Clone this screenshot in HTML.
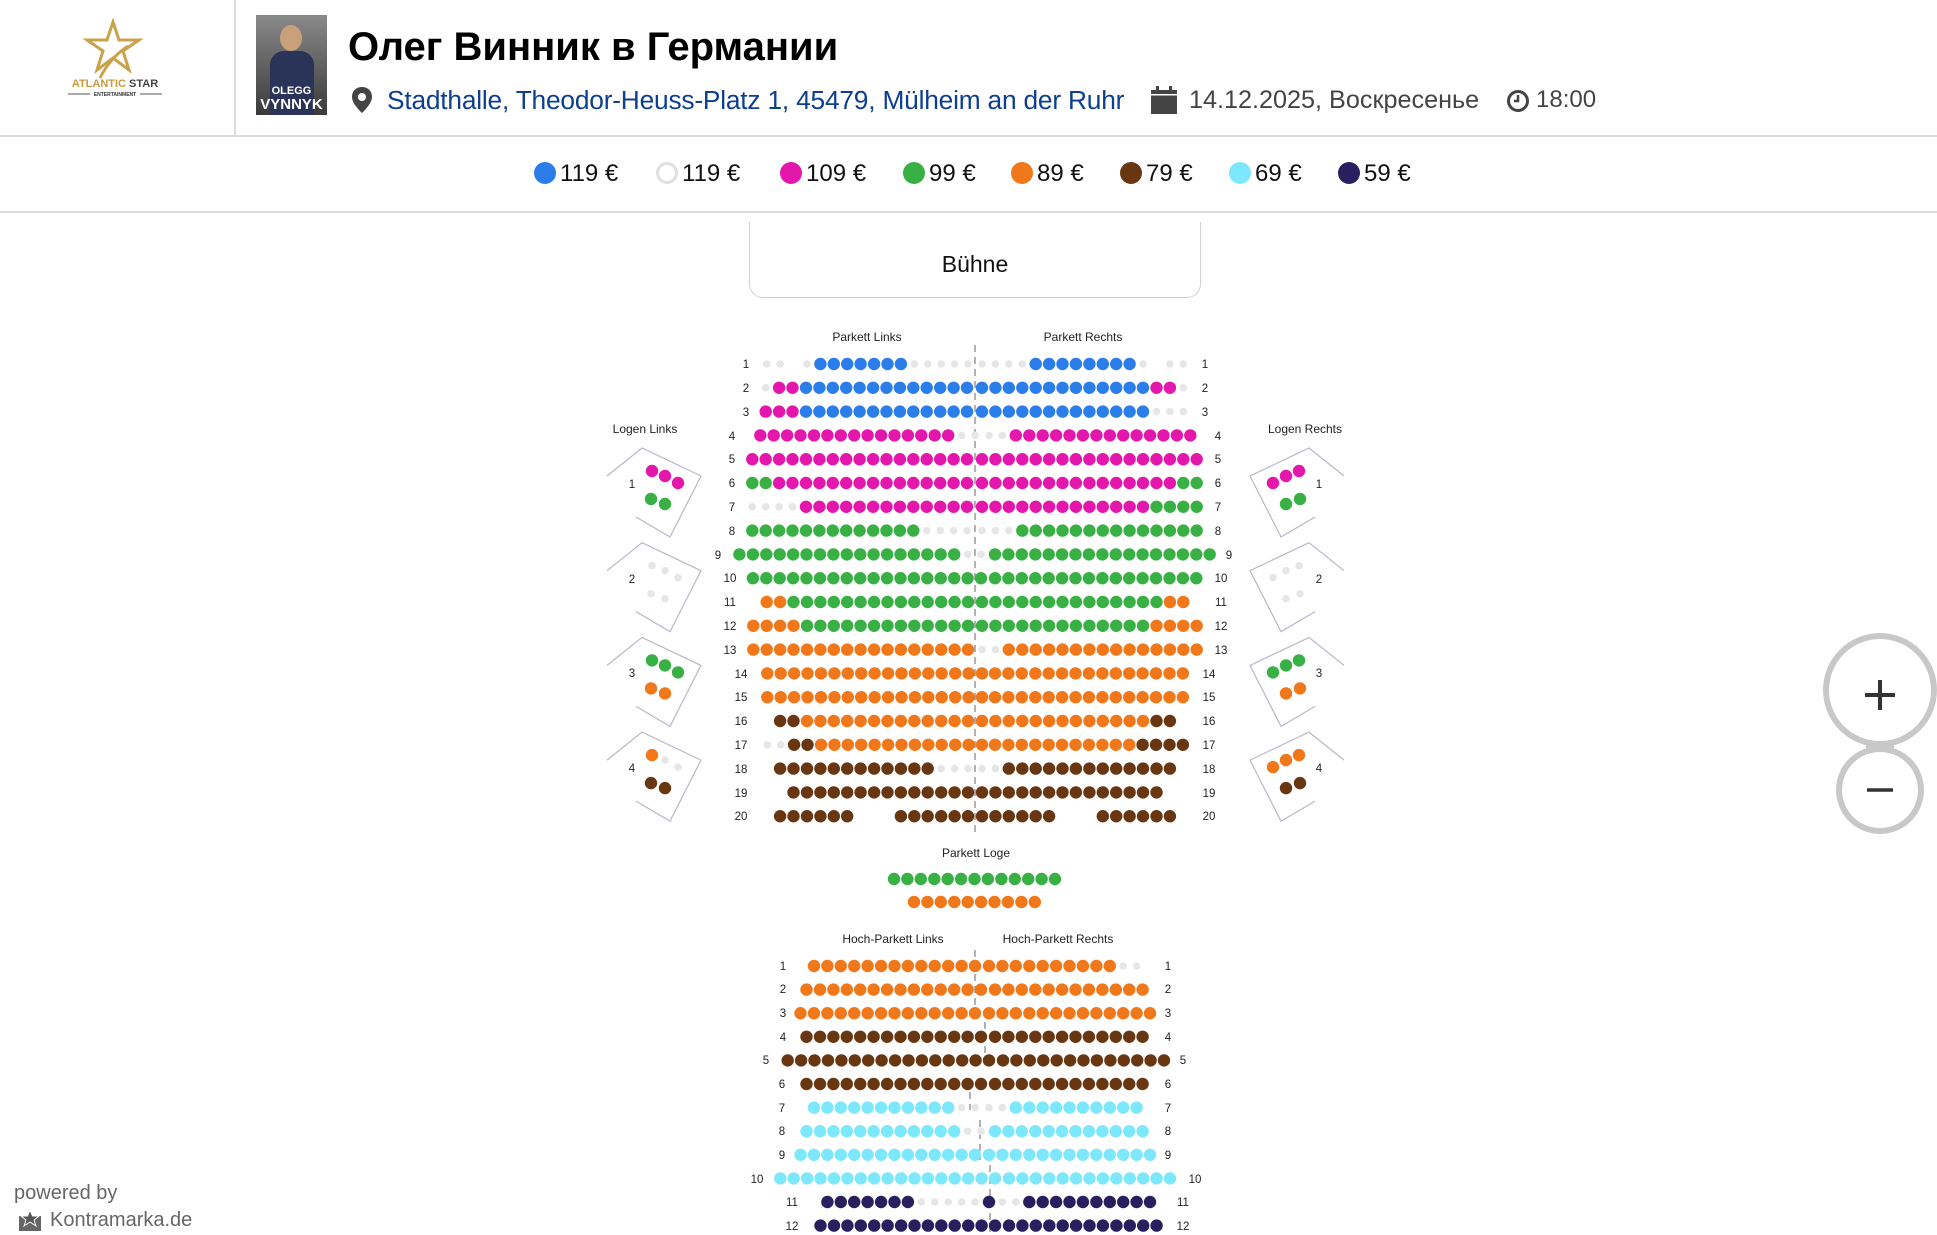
<!DOCTYPE html>
<html><head><meta charset="utf-8">
<style>
html,body{margin:0;padding:0;background:#fff;}
body{width:1937px;height:1235px;position:relative;overflow:hidden;font-family:"Liberation Sans",sans-serif;}
.abs{position:absolute;white-space:nowrap;}
.hline{position:absolute;left:0;width:1937px;height:2px;background:#dcdcdc;}
.leg{position:absolute;top:162px;font-size:24px;color:#111;line-height:24px;}
.leg i{display:inline-block;width:22px;height:22px;border-radius:50%;vertical-align:-3px;margin-right:4px;box-sizing:border-box;}
</style></head><body>
<!-- header -->
<div class="abs" style="left:234px;top:0;width:2px;height:136px;background:#dcdcdc"></div>
<svg class="abs" style="left:50px;top:18px" width="130" height="85" viewBox="0 0 130 85">
  <polygon points="63,4 69,22 89,22 73,33 79,52 63,40 47,52 53,33 37,22 57,22" fill="none" stroke="#c9a24a" stroke-width="3"/>
  <path d="M50,60 Q60,40 78,28" fill="none" stroke="#c9a24a" stroke-width="3"/>
  <text x="65" y="69" text-anchor="middle" font-family="Liberation Sans" font-weight="bold" font-size="11" fill="#c99a3a">ATLANTIC <tspan fill="#444">STAR</tspan></text>
  <line x1="18" y1="76" x2="40" y2="76" stroke="#555" stroke-width="1"/>
  <line x1="90" y1="76" x2="112" y2="76" stroke="#555" stroke-width="1"/>
  <text x="65" y="78" text-anchor="middle" font-family="Liberation Sans" font-weight="bold" font-size="5" fill="#333">ENTERTAINMENT</text>
</svg>
<div class="abs" style="left:256px;top:15px;width:71px;height:100px;background:linear-gradient(#8a8a8a,#3a3a3a);overflow:hidden">
  <div class="abs" style="left:24px;top:10px;width:22px;height:26px;border-radius:50%;background:#c9a07a"></div>
  <div class="abs" style="left:14px;top:36px;width:44px;height:64px;border-radius:14px 14px 0 0;background:#2a3358"></div>
  <div class="abs" style="left:0;top:70px;width:71px;text-align:center;color:#fff;font-size:11px;font-weight:bold;line-height:12px">OLEGG</div>
  <div class="abs" style="left:0;top:82px;width:71px;text-align:center;color:#fff;font-size:15px;font-weight:bold;line-height:16px">VYNNYK</div>
</div>
<div class="abs" style="left:348px;top:24px;font-size:40px;font-weight:bold;color:#000;line-height:46px">Олег Винник в Германии</div>
<svg class="abs" style="left:351px;top:86px" width="22" height="28" viewBox="0 0 22 28"><path d="M11,1 C5,1 1,5 1,11 C1,18 11,27 11,27 C11,27 21,18 21,11 C21,5 17,1 11,1 Z M11,7 A4,4 0 1 1 10.9,7 Z" fill="#444" fill-rule="evenodd"/></svg>
<div class="abs" style="left:387px;top:86px;font-size:26.3px;color:#0d3f8f;line-height:28px;letter-spacing:-0.2px">Stadthalle, Theodor-Heuss-Platz 1, 45479, Mülheim an der Ruhr</div>
<svg class="abs" style="left:1149px;top:85px" width="30" height="30" viewBox="0 0 30 30"><rect x="2" y="5" width="26" height="24" fill="#444"/><rect x="7" y="1" width="3" height="6" fill="#444"/><rect x="20" y="1" width="3" height="6" fill="#444"/><rect x="2" y="9" width="26" height="1.5" fill="#fff"/></svg>
<div class="abs" style="left:1189px;top:86px;font-size:25.2px;color:#444;line-height:28px">14.12.2025, Воскресенье</div>
<svg class="abs" style="left:1506px;top:89px" width="24" height="24" viewBox="0 0 24 24"><circle cx="12" cy="12" r="9.5" fill="none" stroke="#444" stroke-width="3"/><path d="M12,6 V12 H8" fill="none" stroke="#444" stroke-width="2.5"/></svg>
<div class="abs" style="left:1536px;top:86px;font-size:24px;color:#444;line-height:28px">18:00</div>
<div class="hline" style="top:135px"></div>
<!-- legend -->
<div class="leg" style="left:534px"><i style="background:#2b7de9"></i>119 €</div>
<div class="leg" style="left:656px"><i style="background:#fff;border:3px solid #e0e0e0"></i>119 €</div>
<div class="leg" style="left:780px"><i style="background:#e417ac"></i>109 €</div>
<div class="leg" style="left:903px"><i style="background:#39b044"></i>99 €</div>
<div class="leg" style="left:1011px"><i style="background:#f0781a"></i>89 €</div>
<div class="leg" style="left:1120px"><i style="background:#683712"></i>79 €</div>
<div class="leg" style="left:1229px"><i style="background:#7de7fb"></i>69 €</div>
<div class="leg" style="left:1338px"><i style="background:#2a1f5e"></i>59 €</div>
<div class="hline" style="top:211px"></div>
<!-- stage -->
<div class="abs" style="left:749px;top:222px;width:450px;height:75px;border:1.5px solid #cfcfd8;border-top:none;border-radius:0 0 14px 14px"></div>
<div class="abs" style="left:749px;top:251px;width:452px;text-align:center;font-size:23px;color:#111">Bühne</div>

<svg id="map" class="abs" style="left:0;top:0" width="1937" height="1235" font-family="Liberation Sans" font-size="12" fill="#222">
  <text x="867" y="341" text-anchor="middle">Parkett Links</text>
  <text x="1083" y="341" text-anchor="middle">Parkett Rechts</text>
  <text x="645" y="433" text-anchor="middle">Logen Links</text>
  <text x="1305" y="433" text-anchor="middle">Logen Rechts</text>
  <text x="976" y="857" text-anchor="middle">Parkett Loge</text>
  <text x="893" y="943" text-anchor="middle">Hoch-Parkett Links</text>
  <text x="1058" y="943" text-anchor="middle">Hoch-Parkett Rechts</text>
  <path d="M975,345 V835" stroke="#888" stroke-width="1.3" stroke-dasharray="7,5" fill="none"/>
  <path d="M975,950 V1010 M985,1010 V1070 M970,1080 V1110 M980,1120 V1160 M990,1165 V1235" stroke="#888" stroke-width="1.3" stroke-dasharray="7,5" fill="none"/>
  <g text-anchor="middle" font-size="11.5">
    <text x="746" y="368">1</text><text x="1205" y="368">1</text>
    <text x="746" y="392">2</text><text x="1205" y="392">2</text>
    <text x="746" y="416">3</text><text x="1205" y="416">3</text>
    <text x="732" y="440">4</text><text x="1218" y="440">4</text>
    <text x="732" y="463">5</text><text x="1218" y="463">5</text>
    <text x="732" y="487">6</text><text x="1218" y="487">6</text>
    <text x="732" y="511">7</text><text x="1218" y="511">7</text>
    <text x="732" y="535">8</text><text x="1218" y="535">8</text>
    <text x="718" y="559">9</text><text x="1229" y="559">9</text>
    <text x="730" y="582">10</text><text x="1221" y="582">10</text>
    <text x="730" y="606">11</text><text x="1221" y="606">11</text>
    <text x="730" y="630">12</text><text x="1221" y="630">12</text>
    <text x="730" y="654">13</text><text x="1221" y="654">13</text>
    <text x="741" y="678">14</text><text x="1209" y="678">14</text>
    <text x="741" y="701">15</text><text x="1209" y="701">15</text>
    <text x="741" y="725">16</text><text x="1209" y="725">16</text>
    <text x="741" y="749">17</text><text x="1209" y="749">17</text>
    <text x="741" y="773">18</text><text x="1209" y="773">18</text>
    <text x="741" y="797">19</text><text x="1209" y="797">19</text>
    <text x="741" y="820">20</text><text x="1209" y="820">20</text>
    <text x="783" y="970">1</text><text x="1168" y="970">1</text>
    <text x="783" y="993">2</text><text x="1168" y="993">2</text>
    <text x="783" y="1017">3</text><text x="1168" y="1017">3</text>
    <text x="783" y="1041">4</text><text x="1168" y="1041">4</text>
    <text x="766" y="1064">5</text><text x="1183" y="1064">5</text>
    <text x="782" y="1088">6</text><text x="1168" y="1088">6</text>
    <text x="782" y="1112">7</text><text x="1168" y="1112">7</text>
    <text x="782" y="1135">8</text><text x="1168" y="1135">8</text>
    <text x="782" y="1159">9</text><text x="1168" y="1159">9</text>
    <text x="757" y="1183">10</text><text x="1195" y="1183">10</text>
    <text x="792" y="1206">11</text><text x="1183" y="1206">11</text>
    <text x="792" y="1230">12</text><text x="1183" y="1230">12</text>
    <text x="632" y="488">1</text><text x="1319" y="488">1</text>
    <text x="632" y="583">2</text><text x="1319" y="583">2</text>
    <text x="632" y="677">3</text><text x="1319" y="677">3</text>
    <text x="632" y="772">4</text><text x="1319" y="772">4</text>
  </g>
  <g id="seats"></g>
  <!-- zoom buttons -->
  <circle cx="1880" cy="690" r="57" fill="#c8c8c8"/>
  <circle cx="1880" cy="790" r="44" fill="#c8c8c8"/>
  <rect x="1866" y="735" width="28" height="20" fill="#c8c8c8"/>
  <circle cx="1880" cy="690" r="51" fill="#fff"/>
  <circle cx="1880" cy="790" r="38" fill="#fff"/>
  <path d="M1865,695 H1895 M1880,680 V710" stroke="#333" stroke-width="4"/>
  <path d="M1867,790 H1893" stroke="#333" stroke-width="3.5"/>
</svg>
<div class="abs" style="left:14px;top:1181px;font-size:20px;color:#666;line-height:24px">powered by</div>
<svg class="abs" style="left:18px;top:1210px" width="24" height="22" viewBox="0 0 24 22"><rect x="1" y="6" width="22" height="15" fill="#666"/><polygon points="12,0 14.5,6 21,6 16,10 18,16 12,12 6,16 8,10 3,6 9.5,6" fill="#555" stroke="#fff" stroke-width="1"/></svg>
<div class="abs" style="left:50px;top:1208px;font-size:20px;color:#666;line-height:24px">Kontramarka.de</div>

<script>
(function(){
var C={B:'#2b7de9',P:'#e417ac',G:'#39b044',O:'#f0781a',R:'#683712',C:'#7de7fb',N:'#2a1f5e'};
var g=document.getElementById('seats'),NS='http://www.w3.org/2000/svg',PT=13.42;
function seat(x,y,c){ if(c===' ')return; var e=document.createElementNS(NS,'circle');
 e.setAttribute('cx',x.toFixed(1));e.setAttribute('cy',y.toFixed(1));
 if(c==='.'){e.setAttribute('r','3.8');e.setAttribute('fill','#e6e6e6');}
 else{e.setAttribute('r','6.2');e.setAttribute('fill',C[c]);}
 g.appendChild(e);}
function rp(c,n){return new Array(n+1).join(c);}
function row(y,L,le,R,rs){for(var i=0;i<L.length;i++)seat(le-(L.length-1-i)*PT,y,L[i]);
 for(var j=0;j<R.length;j++)seat(rs+j*PT,y,R[j]);}
var B=rp('B',13);
var pk=[
[".. .BBBBBBB.....",968,"....BBBBBBBB. ..",982],
[".PP"+B,967,B+"PP.",982],
["PPP"+B,967,B+"...",982],
[rp('P',15)+"..",975,".."+rp('P',14),989],
[rp('P',17),967,rp('P',17),982],
["GG"+rp('P',15),967,rp('P',15)+"GG",982],
["...."+rp('P',13),967,rp('P',13)+"GGGG",982],
[rp('G',13)+"....",967,"..."+rp('G',14),982],
[rp('G',17)+"..",981,rp('G',17),995],
[rp('G',18),981,rp('G',16),995],
["OO"+rp('G',14),968,rp('G',14)+"OO",982],
["OOOO"+rp('G',13),968,rp('G',13)+"OOOO",982],
[rp('O',17),968,".."+rp('O',15),982],
[rp('O',17),982,rp('O',15),995],
[rp('O',17),982,rp('O',15),995],
["RR"+rp('O',13),968,rp('O',13)+"RR",982],
["..RR"+rp('O',13),982,rp('O',11)+"RRRR",995],
[rp('R',12)+"...",968,".."+rp('R',13),982],
[rp('R',14),968,rp('R',14),982],
["RRRRRR   RRRRRR",968,"RRRRRR   RRRRRR",982]];
pk.forEach(function(r,i){row(364+i*23.8,r[0],r[1],r[2],r[3]);});
var hp=[
[rp('O',13),975,rp('O',10)+"..",989],
[rp('O',14),981,rp('O',12),995],
[rp('O',14),975,rp('O',13),989],
[rp('R',14),981,rp('R',12),995],
[rp('R',16),989,rp('R',13),1003],
[rp('R',14),981,rp('R',12),995],
[rp('C',11)+"..",975,".."+rp('C',10),989],
[rp('C',12)+"..",981,rp('C',12),995],
[rp('C',14),975,rp('C',13),989],
[rp('C',17),995,rp('C',13),1009],
[rp('N',7)+".....",975,"N.."+rp('N',10),989],
[rp('N',14),995,rp('N',12),1009]];
hp.forEach(function(r,i){row(966+i*23.6,r[0],r[1],r[2],r[3]);});
row(879,"",0,rp('G',13),894);
row(902,"",0,rp('O',10),914);
var pos=[[652,471],[665,476],[678,483],[651,499],[665,504]];
var Lc=["PPPGG",".....","GGGOO","O..RR"], Rc=["PPPGG",".....","GGGOO","OOORR"];
for(var k=0;k<4;k++){var dy=k*94.7;
 var pl=document.createElementNS(NS,'polyline');
 pl.setAttribute('points','607,'+(476+dy)+' 642,'+(448+dy)+' 701,'+(476+dy)+' 670,'+(537+dy)+' 636,'+(517+dy));
 pl.setAttribute('fill','none');pl.setAttribute('stroke','#b8b8c8');pl.setAttribute('stroke-width','1.2');g.appendChild(pl);
 var pr=document.createElementNS(NS,'polyline');
 pr.setAttribute('points','1344,'+(476+dy)+' 1309,'+(448+dy)+' 1250,'+(476+dy)+' 1281,'+(537+dy)+' 1315,'+(517+dy));
 pr.setAttribute('fill','none');pr.setAttribute('stroke','#b8b8c8');pr.setAttribute('stroke-width','1.2');g.appendChild(pr);
 for(var s=0;s<5;s++){seat(pos[s][0],pos[s][1]+dy,Lc[k][s]);seat(1951-pos[s][0],pos[s][1]+dy,Rc[k][s]);}
}
})();
</script>
</body></html>
